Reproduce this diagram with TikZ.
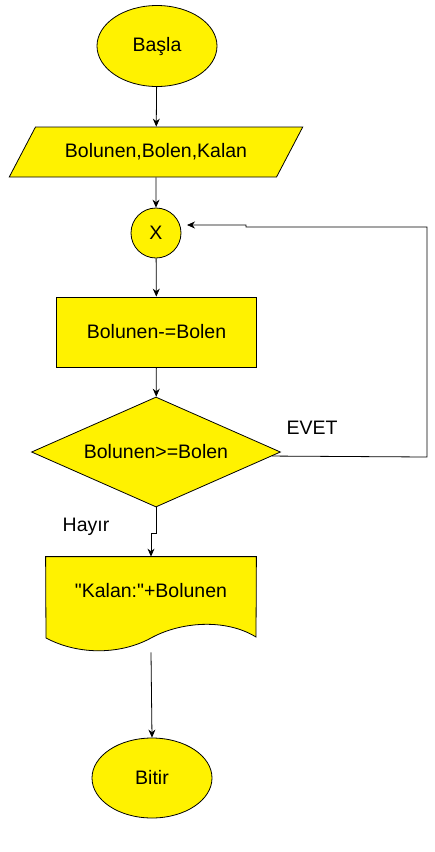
\documentclass[tikz,border=0pt]{standalone}
\usepackage{fontspec}
\setmainfont{Liberation Sans}[Ligatures=TeXOff]
\usetikzlibrary{shapes.geometric, arrows.meta}
\begin{document}
\begin{tikzpicture}[x=1pt, y=-1pt, >={Stealth[length=8pt, width=7pt]}, line width=0.8pt,
    font=\fontsize{19.5}{23}\selectfont,
    startstop/.style={ellipse, draw, fill=yellow, minimum width=120pt, minimum height=81pt, inner sep=0pt},
    inout/.style={trapezium, trapezium left angle=40, trapezium right angle=140, trapezium stretches=true, draw, fill=yellow, minimum width=294pt, minimum height=50pt, inner sep=0pt},
    joint/.style={circle, draw, fill=yellow, minimum size=50pt, inner sep=0pt},
    process/.style={rectangle, draw, fill=yellow, minimum width=200pt, minimum height=70pt, inner sep=0pt},
    decision/.style={diamond, aspect=2.26, draw, fill=yellow, minimum width=249pt, minimum height=110pt, inner sep=0pt},
    docbox/.style={rectangle, minimum width=210pt, minimum height=95pt, inner sep=0pt}]
    \useasboundingbox (0, 0) rectangle (435, 852);

    % Shapes
    \node[startstop] (start) at (157, 46) {Başla};
    \node[inout] (inp) at (156, 152) {Bolunen,Bolen,Kalan};
    \node[joint] (x) at (156, 233) {X};
    \node[process] (sub) at (156.5, 332) {Bolunen-=Bolen};
    \node[decision] (cond) at (156, 452) {Bolunen>=Bolen};
    \node[docbox] (doc) at (151, 604.5) {};
    \draw[fill=yellow] (doc.north west) -- (doc.north east) -- (256, 637)
        .. controls (225, 618) and (180, 622) .. (151, 638)
        .. controls (122, 654) and (80, 656) .. (46, 638) -- cycle;
    \node at (151, 591) {"Kalan:"+Bolunen};
    \node[startstop, minimum height=80pt] (stop) at (152, 778) {Bitir};

    % Points
    \coordinate (loopBR) at (427, 457);
    \coordinate (loopTR) at (427, 227);
    \coordinate (loopJ1) at (246, 227);
    \coordinate (loopJ2) at (246, 225);
    \coordinate (loopEnd) at (187, 225);
    \coordinate (jogA) at (156, 533);
    \coordinate (jogB) at (151, 533);

    % Lines
    \draw[->] (start) -- (inp);
    \draw[->] (inp) -- (x);
    \draw[->] (x) -- (sub);
    \draw[->] (sub) -- (cond);
    \draw[->] (cond.-2.5) -- (loopBR) -- (loopTR) -- (loopJ1) -- (loopJ2) -- (loopEnd);
    \draw[->] (cond.south) -- (jogA) -- (jogB) -- (doc.north);
    \draw[->] (doc.south) -- (stop.north);

    % Labels
    \node at (312, 428) {EVET};
    \node at (86, 527) {Hayır};
\end{tikzpicture}
\end{document}
